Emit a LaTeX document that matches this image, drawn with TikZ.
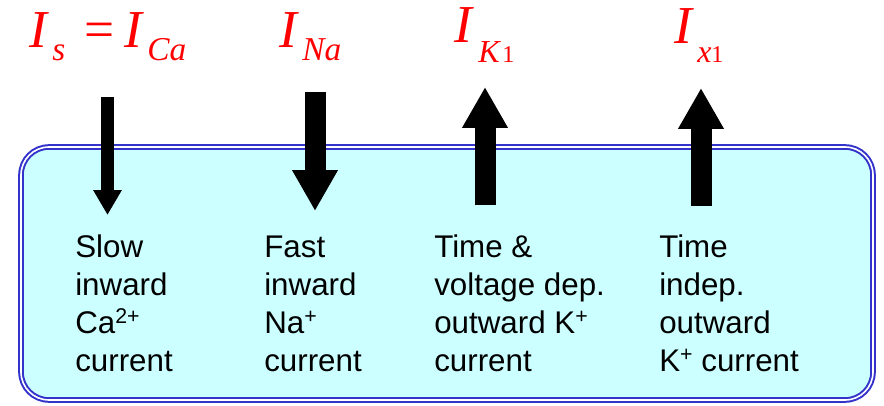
\documentclass[tikz,border=0pt]{standalone}
\usepackage{fontspec}
\setmainfont{Liberation Serif}
\newfontfamily\bodyfont{Liberation Sans}
\usetikzlibrary{arrows.meta}
\definecolor{boxBlue}{RGB}{51,51,204}
\definecolor{boxCyan}{RGB}{204,255,255}
\newcommand{\ionsup}[1]{\raisebox{7pt}{\fontsize{16}{16}\selectfont #1}}
\begin{document}
\begin{tikzpicture}[x=0.75pt, y=-0.75pt,
  cellBox/.style={draw=boxBlue, double=white, line width=1.5pt, double distance=1.2pt, fill=boxCyan, rounded corners=21pt},
  bigI/.style={text=red, font=\fontsize{40}{40}\selectfont\itshape, inner sep=0pt, anchor=base west},
  subLabel/.style={text=red, font=\fontsize{25}{25}\selectfont\itshape, inner sep=0pt, anchor=base west},
  subIndex/.style={text=red, font=\fontsize{18}{18}\selectfont, inner sep=0pt, anchor=base west},
  descText/.style={font=\bodyfont\fontsize{23.5}{28.5}\selectfont, align=left, inner sep=0pt, anchor=base west},
  thinArrow/.style={line width=9.75pt, -{Triangle[width=20.25pt, length=18.75pt]}},
  thickArrow/.style={line width=15.75pt, -{Triangle[width=32.25pt, length=30.75pt]}}
]
\useasboundingbox (0,0) rectangle (884,406);
\draw[cellBox] (21,147) rectangle (873,400);

% current labels
\node[bigI] (isI) at (29,48) {I};
\node[subLabel] (isSub) at (52,61) {s};
\node[bigI, font=\fontsize{40}{40}\selectfont] (isEq) at (84,48) {=};
\node[bigI] (caI) at (124,48) {I};
\node[subLabel] (caSub) at (147,61) {Ca};
\node[bigI] (naI) at (279,48) {I};
\node[subLabel] (naSub) at (302,61) {Na};
\node[bigI] (kI) at (454,43) {I};
\node[subLabel, font=\fontsize{24}{24}\selectfont\itshape] (kSub) at (478,63) {K};
\node[subIndex] (kIdx) at (502,63) {1};
\node[bigI] (xI) at (674,44) {I};
\node[subLabel, font=\fontsize{24}{24}\selectfont\itshape] (xSub) at (697,63) {x};
\node[subIndex] (xIdx) at (711,63) {1};

% arrows
\coordinate (caTop) at (107.5,97);
\coordinate (caTip) at (107.5,215);
\coordinate (naTop) at (315,92);
\coordinate (naTip) at (315,211);
\coordinate (kBot) at (485,205);
\coordinate (kTip) at (485,87);
\coordinate (xBot) at (701,206);
\coordinate (xTip) at (701,88);
\draw[thinArrow] (caTop) -- (caTip);
\draw[thickArrow] (naTop) -- (naTip);
\draw[thickArrow] (kBot) -- (kTip);
\draw[thickArrow] (xBot) -- (xTip);

% descriptions (base = last line)
\node[descText] (caText) at (75,371) {Slow\\inward\\Ca\ionsup{2+}\\current};
\node[descText] (naText) at (264,371) {Fast\\inward\\Na\ionsup{+}\\current};
\node[descText] (kText) at (434,371) {Time \&\\voltage dep.\\outward K\ionsup{+}\\current};
\node[descText] (xText) at (659,371) {Time\\indep.\\outward\\K\ionsup{+} current};
\end{tikzpicture}
\end{document}
